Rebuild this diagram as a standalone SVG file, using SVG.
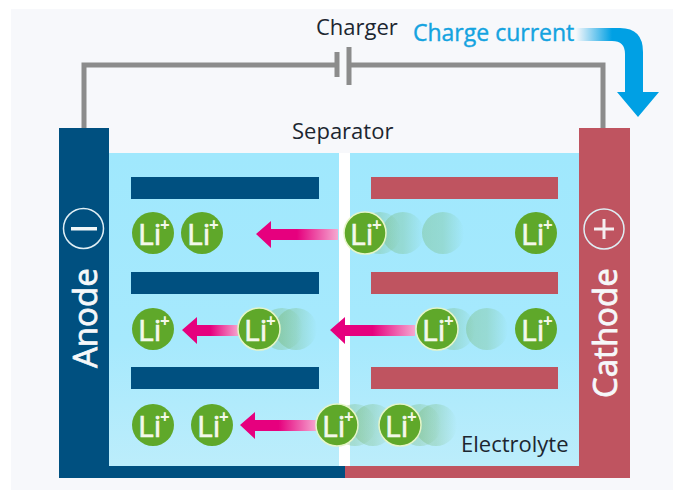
<svg xmlns="http://www.w3.org/2000/svg" xmlns:xlink="http://www.w3.org/1999/xlink" width="673" height="490" viewBox="0 0 673 490">
<style>
text{font-family:"Open Sans","Noto Sans","Liberation Sans",sans-serif}
.dark{fill:#1c2630;font-size:22px}
.wire{fill:none;stroke:#8c8c8c;stroke-width:5}
.an{fill:#005080}.ca{fill:#bf5460}
.li{fill:#5fa82a}.lio{fill:#5fa82a;stroke:#e6f5c8;stroke-width:1.5}
.lit{fill:#f4f8ea;stroke:#f4f8ea;stroke-width:.7;font-size:30px}
.lip{fill:#f4f8ea;font-size:17px;font-weight:700}
.side{fill:#f6f8fa;stroke:#f6f8fa;stroke-width:.8;font-size:33px}
.ring{fill:none;stroke:#dfeef4;stroke-width:1.500}
</style>
<defs>
<linearGradient id="el" x1="0" y1="0" x2="0" y2="1"><stop offset="0" stop-color="#a0e8fd"/><stop offset="0.6" stop-color="#a6e9fd"/><stop offset="1" stop-color="#bcedfb"/></linearGradient>
<linearGradient id="cur" gradientUnits="userSpaceOnUse" x1="576" y1="0" x2="612" y2="0"><stop offset="0" stop-color="#00a0e4" stop-opacity="0"/><stop offset="1" stop-color="#00a0e4"/></linearGradient>
<linearGradient id="pink" x1="0" y1="0" x2="1" y2="0"><stop offset="0" stop-color="#e6007e"/><stop offset="0.5" stop-color="#e6007e"/><stop offset="1" stop-color="#f5a8d0"/></linearGradient>
<linearGradient id="gh" x1="0" y1="0" x2="1" y2="0"><stop offset="0" stop-color="#6eb060" stop-opacity="0.32"/><stop offset="0.5" stop-color="#6eb060" stop-opacity="0.26"/><stop offset="1" stop-color="#6eb060" stop-opacity="0"/></linearGradient>
<g id="ion"><circle r="21" class="li"/><text class="lit" x="-15" y="12">Li</text><text class="lip" x="7" y="-2">+</text></g>
<g id="ion2"><circle r="21" class="lio"/><text class="lit" x="-15" y="12">Li</text><text class="lip" x="7" y="-2">+</text></g>
<circle id="ghost" r="21" fill="url(#gh)"/>
</defs>
<rect width="673" height="490" fill="#fff"/>
<rect x="11" y="9" width="662" height="481" fill="#f7f8fb"/>
<g id="connectors">
<path class="wire" d="M84 128V65H336M348 65H603V128"/>
<path d="M337 52V77M349 47V85" fill="none" stroke="#8c8c8c" stroke-width="5"/>
<path d="M576 28H620Q643 28 643 52V92H659L638 117L617 92H625V54Q625 41 612 41H576Z" fill="url(#cur)"/>
</g>
<g id="electrolyte"><rect x="109" y="153" width="470" height="313" fill="url(#el)"/><rect x="339" y="153" width="11" height="313" fill="#fff"/></g>
<g id="anode">
<rect class="an" x="59" y="128" width="50" height="350"/><rect class="an" x="109" y="466" width="236" height="12"/>
<circle class="ring" cx="83.500" cy="228.500" r="20"/><rect x="71" y="227" width="26" height="3.500" fill="#f0f6f8"/>
<text class="side" transform="translate(97 368) rotate(-90)">Anode</text>
<rect class="an" x="131" y="177" width="188" height="22"/><rect class="an" x="131" y="272" width="188" height="22"/><rect class="an" x="131" y="367" width="188" height="22"/>
</g>
<g id="cathode">
<rect class="ca" x="579" y="128" width="51" height="350"/><rect class="ca" x="345" y="466" width="234" height="12"/>
<circle class="ring" cx="604" cy="229" r="20"/><path d="M594 229H614M604 219V239" stroke="#f5eef0" stroke-width="3" fill="none"/>
<text class="side" transform="translate(617 398) rotate(-90)">Cathode</text>
<rect class="ca" x="371" y="177" width="187" height="22"/><rect class="ca" x="371" y="272" width="187" height="22"/><rect class="ca" x="371" y="367" width="187" height="22"/>
</g>
<g id="ghosts">
<use xlink:href="#ghost" x="380" y="233"/><use xlink:href="#ghost" x="403" y="233"/><use xlink:href="#ghost" x="443" y="233"/>
<use xlink:href="#ghost" x="282" y="329"/><use xlink:href="#ghost" x="296" y="329"/>
<use xlink:href="#ghost" x="454" y="329"/><use xlink:href="#ghost" x="487" y="329"/>
<use xlink:href="#ghost" x="355" y="425"/><use xlink:href="#ghost" x="373" y="425"/><use xlink:href="#ghost" x="420" y="425"/><use xlink:href="#ghost" x="436" y="425"/>
</g>
<g id="arrows">
<path d="M256 234l15-13v8h67v11h-67v8z" fill="url(#pink)"/>
<path d="M182 330l15-13v8h42v11h-42v8z" fill="url(#pink)"/>
<path d="M330 330l15-13v8h70v11h-70v8z" fill="url(#pink)"/>
<path d="M240 425l15-13v8h62v11h-62v8z" fill="url(#pink)"/>
</g>
<g id="ions">
<use xlink:href="#ion" x="153" y="233"/><use xlink:href="#ion" x="202" y="233"/><use xlink:href="#ion2" x="365" y="233"/><use xlink:href="#ion" x="536" y="233"/>
<use xlink:href="#ion" x="153" y="329"/><use xlink:href="#ion2" x="259" y="329"/><use xlink:href="#ion2" x="437" y="329"/><use xlink:href="#ion" x="536" y="329"/>
<use xlink:href="#ion" x="153" y="425"/><use xlink:href="#ion" x="212" y="425"/><use xlink:href="#ion2" x="337" y="425"/><use xlink:href="#ion2" x="400" y="425"/>
</g>
<g id="labels">
<text class="dark" x="316" y="35">Charger</text>
<text x="413" y="41" font-size="23" stroke="#14a3e0" stroke-width=".4" fill="#14a3e0">Charge current</text>
<text class="dark" x="292" y="139">Separator</text>
<text class="dark" x="461" y="452">Electrolyte</text>
</g>
</svg>
